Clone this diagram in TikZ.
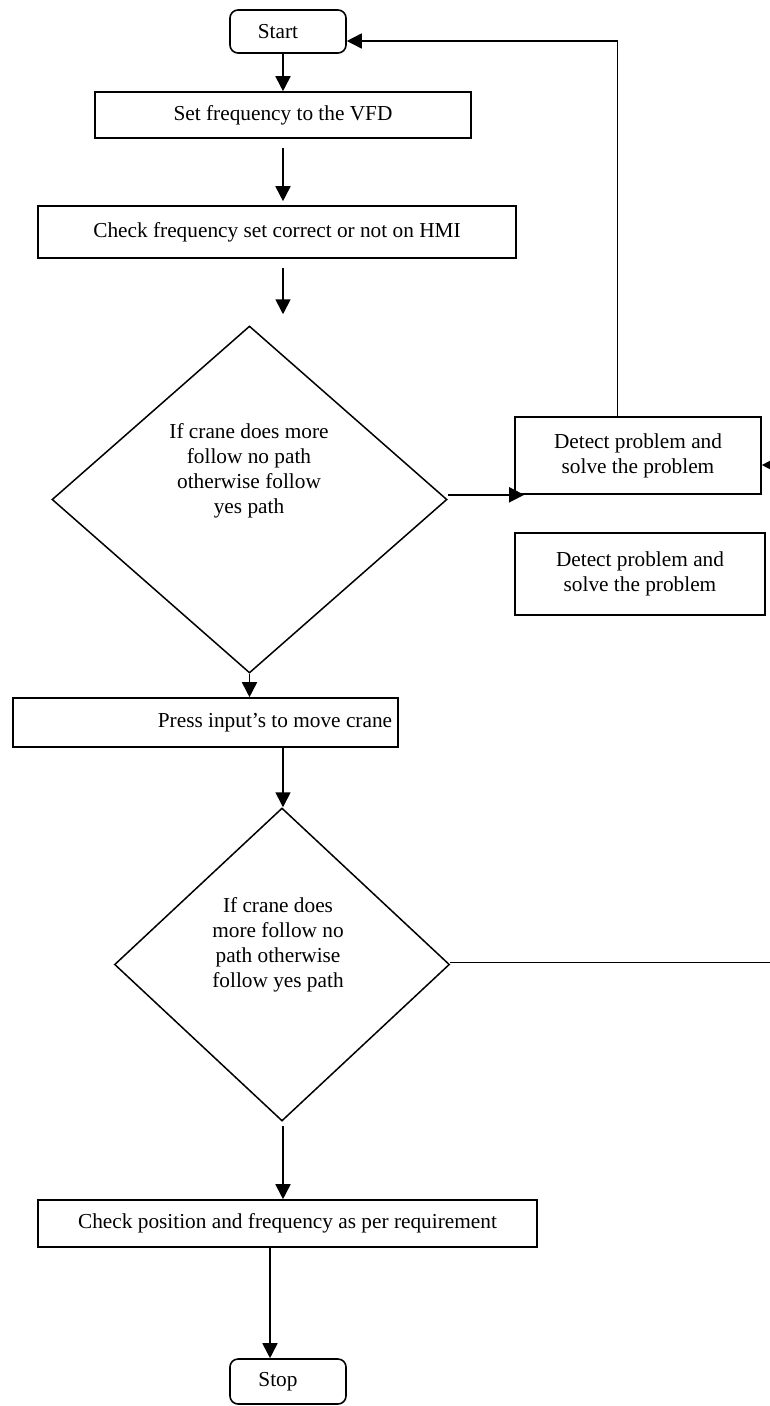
\documentclass[tikz,border=0pt]{standalone}
\usepackage{fontspec}
\setmainfont{Liberation Serif}
\usetikzlibrary{shapes.geometric,arrows.meta,calc}
\begin{document}
\begin{tikzpicture}[x=1pt,y=-1pt,
  every node/.style={font=\fontsize{21.3}{25}\selectfont},
  box/.style={draw, line width=1.6pt, rectangle, inner sep=0pt, align=center},
  term/.style={box, rounded corners=8pt},
  dec/.style={draw, line width=1.5pt, diamond, inner sep=0pt},
  arr/.style={line width=1.7pt, -{Triangle[length=15pt,width=15pt]}}]
\useasboundingbox (0,0) rectangle (769,1406);
\node[term, minimum width=116pt, minimum height=43pt] (start) at (288,31.5) {Start\hspace*{20pt}};
\node[box, minimum width=376pt, minimum height=46pt] (set) at (283,115) {Set frequency to the VFD};
\node[box, minimum width=478pt, minimum height=52pt] (check) at (277,232) {Check frequency set correct or not on HMI};
\node[dec, minimum width=395pt, minimum height=347pt] (d1) at (249.5,499.5) {};
\node[align=center] (d1t) at (249,471) {If crane does more\\follow no path\\otherwise follow\\yes path};
\node[box, minimum width=246pt, minimum height=77pt] (det1) at (638,455.5) {Detect problem and\\solve the problem};
\node[box, minimum width=250pt, minimum height=82pt] (det2) at (640,574) {Detect problem and\\solve the problem};
\node[box, minimum width=385pt, minimum height=49pt] (press) at (205.5,722.5) {\hspace*{139pt}Press input’s to move crane};
\node[dec, minimum width=335pt, minimum height=313pt] (d2) at (282,964.5) {};
\node[align=center] (d2t) at (278,945) {If crane does\\more follow no\\path otherwise\\follow yes path};
\node[box, minimum width=499pt, minimum height=47pt] (cpos) at (287.5,1223.5) {Check position and frequency as per requirement};
\node[term, minimum width=116pt, minimum height=45pt] (stop) at (288,1381.5) {Stop\hspace*{20pt}};
\coordinate (sp) at (283,0);
\coordinate (c5) at ($(cpos.south)+(-17.5,0)$);
\draw[arr] (sp |- start.south) -- (sp |- set.north);
\draw[arr] ($(sp |- set.south)+(0,9)$) -- ($(sp |- check.north)+(0,-4)$);
\draw[arr] ($(sp |- check.south)+(0,9)$) -- ($(sp |- d1.north)+(0,-11)$);
\draw[arr] (d1.east |- det1.south) -- ($(det1.south west)+(10,0)$);
\draw[arr] ($(det1.north)+(-20.5,0)$) |- ($(start.east)+(0,9.5)$);
\draw[arr] (d1.south) -- (d1.south |- press.north);
\draw[arr] (sp |- press.south) -- (sp |- d2.north);
\draw[arr] ($(d2.east)+(0,-2)$) -- ++(330,0) |- ($(det1.east)+(0,9.5)$);
\draw[arr] ($(sp |- d2.south)+(0,4)$) -- (sp |- cpos.north);
\draw[arr] (c5) -- (c5 |- stop.north);
\end{tikzpicture}
\end{document}
